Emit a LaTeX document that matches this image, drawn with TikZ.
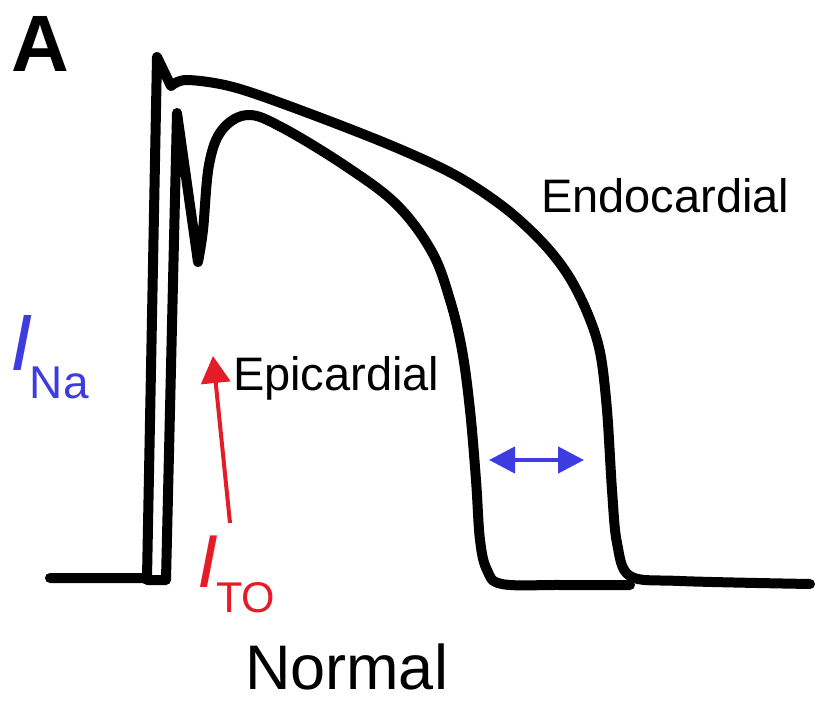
\documentclass[tikz,border=0pt]{standalone}
\usepackage{fontspec}
\setmainfont{Liberation Sans}
\usetikzlibrary{arrows.meta}
\definecolor{inablue}{RGB}{60,60,225}
\definecolor{itored}{RGB}{228,28,40}
\tikzset{
  trace/.style={line width=10pt, line join=round, line cap=round, black},
  lbl/.style={anchor=base west, inner sep=0pt, outer sep=0pt},
}
\begin{document}
\begin{tikzpicture}[x=1pt,y=-1pt]
\useasboundingbox (0,0) rectangle (815,701);
% endocardial trace
\draw[trace] (50,578) -- (147,578) -- (157,57) -- (171,86)
  plot[smooth,tension=0.55] coordinates {(171,86) (187,80) (233,87) (300,110) (390,145) (455,175) (505,208) (543,243) (568,275) (587,312) (600,352) (607,410) (612,490) (617,543) (630,576) (680,581) (810,584)};
% epicardial trace
\draw[trace] (147,580) -- (166,580) -- (177,113) -- (198,262)
  plot[smooth,tension=0.6] coordinates {(198,262) (203,230) (209,165) (222,130) (248,115) (283,128) (347,167) (397,205) (432,252) (450,300) (462,350) (470,410) (476,480) (480,540) (487,570) (502,584) (560,585) (630,585)};
% labels
\node[lbl, font=\bfseries\fontsize{80}{80}\selectfont] (lblA) at (12,72) {A};
\node[lbl, text=inablue, font=\itshape\fontsize{80}{80}\selectfont] (ina) at (10,370) {I};
\node[lbl, text=inablue, font=\fontsize{46}{46}\selectfont] (inasub) at (30,398) {Na};
\node[lbl, text=itored, font=\itshape\fontsize{75}{75}\selectfont] (ito) at (197,587) {I};
\node[lbl, text=itored, font=\fontsize{43}{43}\selectfont] (itosub) at (216,612) {TO};
\node[lbl, font=\fontsize{47}{47}\selectfont] (epi) at (233,390) {Epicardial};
\node[lbl, font=\fontsize{47}{47}\selectfont] (endo) at (541,212) {Endocardial};
\node[lbl, font=\fontsize{63}{63}\selectfont] (normal) at (245,689) {Normal};
% arrows
\coordinate (itoTail) at (230,523);
\coordinate (itoTip) at (213,356);
\draw[itored, line width=4pt, -{Triangle[length=27pt,width=29pt]}] (itoTail) -- (itoTip);
\coordinate (apdL) at (489,460);
\coordinate (apdR) at (584,460);
\draw[inablue, line width=4.5pt, {Triangle[length=26pt,width=26pt]}-{Triangle[length=26pt,width=26pt]}] (apdL) -- (apdR);
\end{tikzpicture}
\end{document}
